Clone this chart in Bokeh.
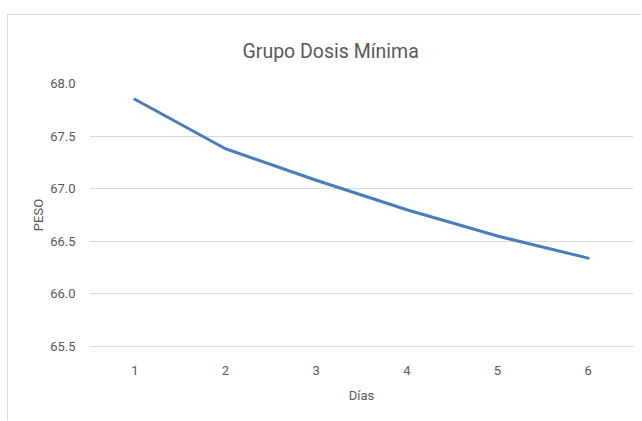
from bokeh.plotting import figure
from bokeh.models import FixedTicker, Range1d, CustomJSTickFormatter
from bokeh.embed import file_html
from bokeh.resources import INLINE

# Data
dias = [1, 2, 3, 4, 5, 6]
peso = [67.85, 67.38, 67.08, 66.80, 66.55, 66.34]
y_ticks = [65.5, 66.0, 66.5, 67.0, 67.5, 68.0]
title_text = "Grupo Dosis Mínima"
x_label = "Días"
y_label = "PESO"

FONT = "Roboto"
TXT = "#595959"
GRID = "#d9d9d9"

p = figure(width=634, height=406, output_backend="svg", toolbar_location=None,
           x_range=Range1d(0.5, 6.5), y_range=Range1d(65.5, 68.0),
           min_border_left=81, min_border_right=9, min_border_top=68, min_border_bottom=75)
p.styles = {"border-top": "1px solid #d9d9d9", "border-left": "1px solid #d9d9d9",
            "margin-top": "14px", "margin-left": "7px"}
p.title.text = title_text
p.title.align = "left"
p.title.offset = 153
p.title.text_font = FONT
p.title.text_font_size = "19.5px"
p.title.text_font_style = "normal"
p.title.text_color = TXT
p.title.standoff = 41

p.line(dias, peso, line_color="#4A7EBB", line_width=3, line_cap="round", line_join="round")

p.outline_line_color = None
p.xgrid.grid_line_color = None
p.ygrid.grid_line_color = GRID
p.ygrid.ticker = FixedTicker(ticks=y_ticks)

p.xaxis.ticker = FixedTicker(ticks=dias)
p.yaxis.ticker = FixedTicker(ticks=y_ticks)
p.yaxis.formatter = CustomJSTickFormatter(code="return tick.toFixed(1);")

for ax in (p.xaxis, p.yaxis):
    ax.axis_line_color = None
    ax.major_tick_line_color = None
    ax.minor_tick_line_color = None
    ax.major_label_text_font = FONT
    ax.major_label_text_font_size = "13px"
    ax.major_label_text_color = TXT
    ax.axis_label_text_font = FONT
    ax.axis_label_text_font_size = "13px"
    ax.axis_label_text_color = TXT
    ax.axis_label_text_font_style = "normal"

p.xaxis.axis_line_color = GRID
p.xaxis.axis_label = x_label
p.yaxis.axis_label = y_label
p.xaxis.major_label_standoff = 13
p.yaxis.major_label_standoff = 8
p.xaxis.axis_label_standoff = 10
p.yaxis.axis_label_standoff = 1

open("out.html", "w").write(file_html(p, INLINE))
